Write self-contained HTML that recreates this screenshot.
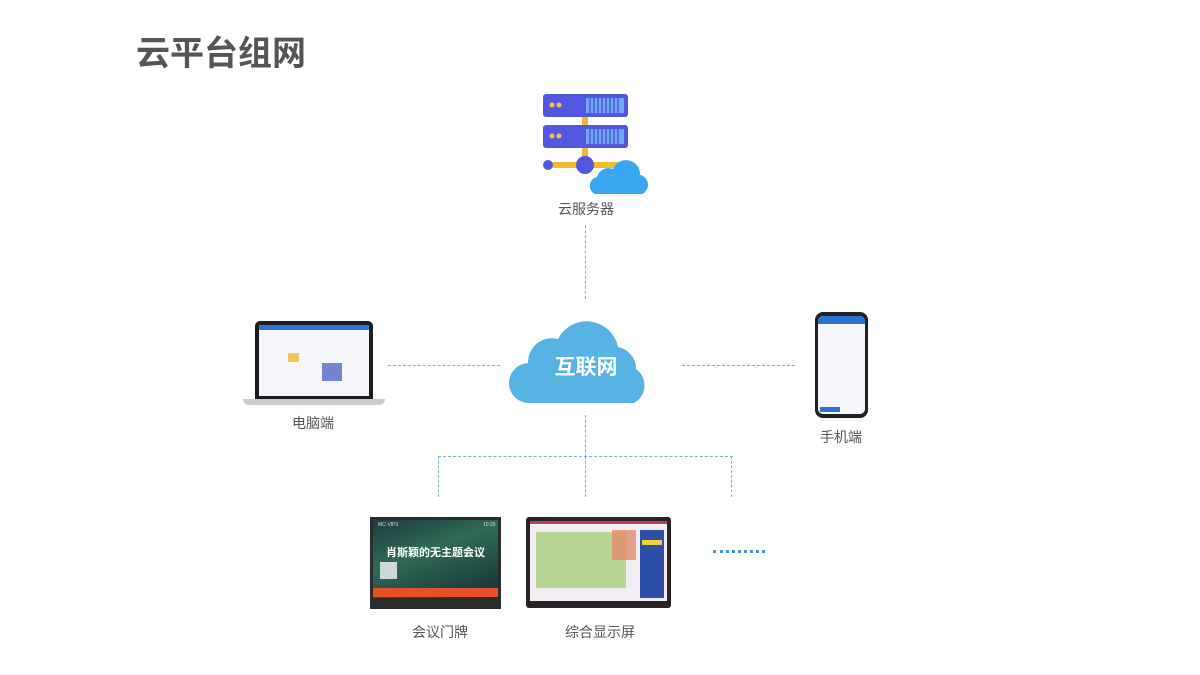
<!DOCTYPE html>
<html><head><meta charset="utf-8">
<style>
*{margin:0;padding:0;box-sizing:border-box}
body{width:1200px;height:675px;background:#fff;position:relative;overflow:hidden;font-family:"Liberation Sans","Noto Sans CJK SC",sans-serif}
.a{position:absolute}
.lbl{position:absolute;font-size:14px;color:#555;text-align:center;width:120px;line-height:16px}
.dh{position:absolute;height:0;border-top:1.5px dashed #7fb0dc}
.dv{position:absolute;width:0;border-left:1.5px dashed #7fb0dc}
</style></head><body>
<div class="a" style="left:136px;top:34px;font-size:34px;font-weight:bold;color:#555;letter-spacing:0px;line-height:40px">云平台组网</div>

<!-- server -->
<svg class="a" style="left:535px;top:90px" width="115" height="110" viewBox="0 0 115 110">
<rect x="47" y="20" width="6" height="60" fill="#f5b82e"/>
<rect x="14" y="72" width="80" height="6" fill="#f5b82e"/>
<rect x="8" y="4" width="85" height="23" rx="3" fill="#5357e0"/>
<rect x="8" y="35" width="85" height="23" rx="3" fill="#5357e0"/>
<circle cx="17" cy="15" r="2.5" fill="#f5c04a"/><circle cx="24" cy="15" r="2.5" fill="#f5c04a"/>
<circle cx="17" cy="46" r="2.5" fill="#f5c04a"/><circle cx="24" cy="46" r="2.5" fill="#f5c04a"/>
<g fill="#6fa8f5"><rect x="51" y="8" width="38" height="15"/><rect x="51" y="39" width="38" height="15"/></g>
<g stroke="#5357e0" stroke-width="1.5"><path d="M55 8v15M59 8v15M63 8v15M67 8v15M71 8v15M75 8v15M79 8v15M83 8v15M55 39v15M59 39v15M63 39v15M67 39v15M71 39v15M75 39v15M79 39v15M83 39v15"/></g>
<circle cx="13" cy="75" r="5" fill="#5357e0"/>
<circle cx="50" cy="75" r="9" fill="#5357e0"/>
<path d="M60 104 a9 9 0 0 1 2-17 a12 12 0 0 1 16-8 a14 14 0 0 1 27 6 a10 10 0 0 1 2 19z" fill="#3aa5f0"/>
</svg>
<div class="lbl" style="left:526px;top:201px">云服务器</div>

<div class="dv" style="left:585px;top:225px;height:74px"></div>

<!-- cloud -->
<svg class="a" style="left:508px;top:305px" width="155" height="100" viewBox="0 0 155 100">
<path d="M22 98 a20 20 0 0 1 -2 -40 a24 24 0 0 1 30 -24 a32 32 0 0 1 60 8 a22 22 0 0 1 18 22 a20 20 0 0 1 -2 34z" fill="#57b3e4"/>
<text x="78" y="69" text-anchor="middle" font-size="21" font-weight="bold" fill="#fff" font-family="Liberation Sans,Noto Sans CJK SC,sans-serif">互联网</text>
</svg>

<div class="dh" style="left:388px;top:365px;width:112px"></div>
<div class="dh" style="left:682px;top:365px;width:113px"></div>

<!-- laptop -->
<div class="a" style="left:255px;top:321px;width:118px;height:78px;background:#1d1d1f;border-radius:5px 5px 0 0"></div>
<div class="a" style="left:259px;top:325px;width:110px;height:71px;background:#f4f6fa"></div>
<div class="a" style="left:259px;top:325px;width:110px;height:5px;background:#2a73d9"></div>
<div class="a" style="left:288px;top:353px;width:11px;height:9px;background:#f2c35a"></div>
<div class="a" style="left:322px;top:363px;width:20px;height:18px;background:#7484d0"></div>
<div class="a" style="left:243px;top:399px;width:142px;height:6px;background:#c9cbd0;border-radius:0 0 6px 6px"></div>
<div class="lbl" style="left:253px;top:415px">电脑端</div>

<!-- phone -->
<div class="a" style="left:815px;top:312px;width:53px;height:106px;background:#222;border-radius:8px"></div>
<div class="a" style="left:818px;top:316px;width:47px;height:98px;background:#f5f7fa;border-radius:5px"></div>
<div class="a" style="left:818px;top:316px;width:47px;height:8px;background:#2a73d9;border-radius:5px 5px 0 0"></div>
<div class="a" style="left:820px;top:407px;width:20px;height:5px;background:#2a73d9"></div>
<div class="lbl" style="left:781px;top:429px">手机端</div>

<!-- bottom connectors -->
<div class="dv" style="left:585px;top:415px;height:42px"></div>
<div class="dh" style="left:438px;top:456px;width:295px"></div>
<div class="dv" style="left:438px;top:456px;height:41px"></div>
<div class="dv" style="left:585px;top:456px;height:41px"></div>
<div class="dv" style="left:731px;top:456px;height:41px"></div>

<!-- door sign -->
<div class="a" style="left:370px;top:517px;width:131px;height:92px;background:#2a2c2e"></div>
<div class="a" style="left:373px;top:520px;width:125px;height:78px;background:linear-gradient(160deg,#1d3a40 0%,#2f6a55 40%,#163036 100%)"></div>
<div class="a" style="left:373px;top:588px;width:125px;height:9px;background:#e8502a"></div>
<div class="a" style="left:380px;top:562px;width:17px;height:17px;background:#cfd6dc"></div>
<div class="a" style="left:373px;top:544px;width:125px;text-align:center;color:#fff;font-size:11px;font-weight:bold">肖斯颖的无主题会议</div>
<div class="a" style="left:378px;top:522px;color:#ddd;font-size:5px">MC-VIP3</div>
<div class="a" style="left:483px;top:522px;color:#ddd;font-size:5px">10:26</div>
<div class="lbl" style="left:380px;top:624px">会议门牌</div>

<!-- display -->
<div class="a" style="left:526px;top:517px;width:145px;height:91px;background:#2b2226;border-radius:3px"></div>
<div class="a" style="left:530px;top:521px;width:137px;height:80px;background:#f0eef2;border-top:3px solid #c23a5a"></div>
<div class="a" style="left:536px;top:532px;width:90px;height:56px;background:#a9cf7a;opacity:.8"></div>
<div class="a" style="left:612px;top:530px;width:24px;height:30px;background:#e58a6a;opacity:.8"></div>
<div class="a" style="left:640px;top:530px;width:24px;height:68px;background:#2d4fa8"></div>
<div class="a" style="left:642px;top:540px;width:20px;height:5px;background:#f2d23a"></div>
<div class="lbl" style="left:540px;top:624px">综合显示屏</div>

<div class="a" style="left:713px;top:550px;width:52px;height:0;border-top:3px dotted #4a8fe0"></div>
</body></html>
